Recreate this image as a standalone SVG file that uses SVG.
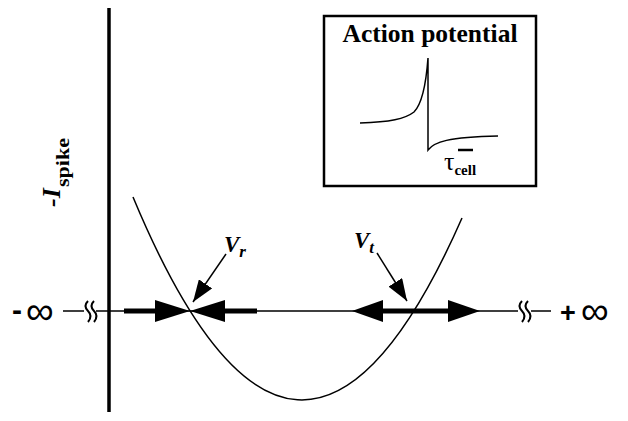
<svg xmlns="http://www.w3.org/2000/svg" width="628" height="421" viewBox="0 0 628 421">
<style>
.thin{stroke:#000;stroke-width:1.5;fill:none}
.thick{stroke:#000;stroke-width:5;fill:none}
.wave{stroke:#000;stroke-width:2;fill:none}
.head{fill:#000}
.serif{font-family:"Liberation Serif","Times New Roman",serif;fill:#000}
.sans{font-family:"Liberation Sans",Arial,sans-serif;fill:#000}
</style>
<defs>
<marker id="ptr" markerUnits="userSpaceOnUse" markerWidth="22" markerHeight="16" refX="22" refY="8" orient="auto">
<path d="M0,0 L22,8 L0,16 z" fill="#000"/>
</marker>
</defs>
<rect width="628" height="421" fill="#fff"/>

<g id="axes">
<line x1="109" y1="8" x2="109" y2="412" stroke="#000" stroke-width="3.5"/>
<path class="thin" d="M63,311 L84,311 M96,311 L518,311 M531,311 L551,311"/>
<path class="wave" d="M88,301 q-5,5 0,10 q5,5 0,11 M94,301 q-5,5 0,10 q5,5 0,11"/>
<path class="wave" d="M522,301 q-5,5 0,10 q5,5 0,11 M528,301 q-5,5 0,10 q5,5 0,11"/>
<text class="sans" x="12" y="320" font-size="30" font-weight="bold">-</text>
<text class="sans" x="26" y="324" font-size="39">∞</text>
<text class="sans" x="560" y="322" font-size="27" font-weight="bold">+</text>
<text class="sans" x="581" y="324" font-size="39">∞</text>
</g>

<g id="ylabel" transform="translate(60,207) rotate(-90)">
<text class="serif" x="0" y="0" font-size="26" font-weight="bold" font-style="italic">-I</text>
<text class="serif" x="20" y="9" font-size="18" font-weight="bold" textLength="49" lengthAdjust="spacingAndGlyphs">spike</text>
</g>

<g id="curve">
<path class="thin" d="M133,197 Q297.5,592 462,218"/>
</g>

<g id="connectors">
<line class="thick" x1="124" y1="311" x2="157" y2="311"/>
<polygon class="head" points="155,300 190,311 155,322"/>
<line class="thick" x1="223" y1="311" x2="257" y2="311"/>
<polygon class="head" points="225,300 190,311 225,322"/>
<line class="thick" x1="381" y1="311" x2="450" y2="311"/>
<polygon class="head" points="383,300 352,311 383,322"/>
<polygon class="head" points="448,300 480,311 448,322"/>
<line x1="226" y1="254" x2="193" y2="302" stroke="#000" stroke-width="1.5" marker-end="url(#ptr)"/>
<line x1="377" y1="253" x2="407" y2="301" stroke="#000" stroke-width="1.5" marker-end="url(#ptr)"/>
</g>

<g id="Vr">
<text class="serif" x="224" y="252" font-size="23" font-weight="bold" font-style="italic">V<tspan font-size="17" dy="5">r</tspan></text>
</g>
<g id="Vt">
<text class="serif" x="354" y="248" font-size="23" font-weight="bold" font-style="italic">V<tspan font-size="17" dy="5">t</tspan></text>
</g>

<g id="inset">
<rect x="324" y="16" width="212" height="170" fill="#fff" stroke="#000" stroke-width="2.5"/>
<text class="serif" x="430" y="42" font-size="25.5" font-weight="bold" text-anchor="middle">Action potential</text>
<path d="M360,123 C390,122 405,119 414,112 C422,104 426,85 428,58 L428,150 C434,142 448,137 498,136" fill="none" stroke="#000" stroke-width="1.5"/>
<line x1="458" y1="150" x2="473" y2="150" stroke="#000" stroke-width="2.5"/>
<text class="serif" x="444" y="170" font-size="26">τ<tspan font-size="15" font-weight="bold" dy="5">cell</tspan></text>
</g>
</svg>
